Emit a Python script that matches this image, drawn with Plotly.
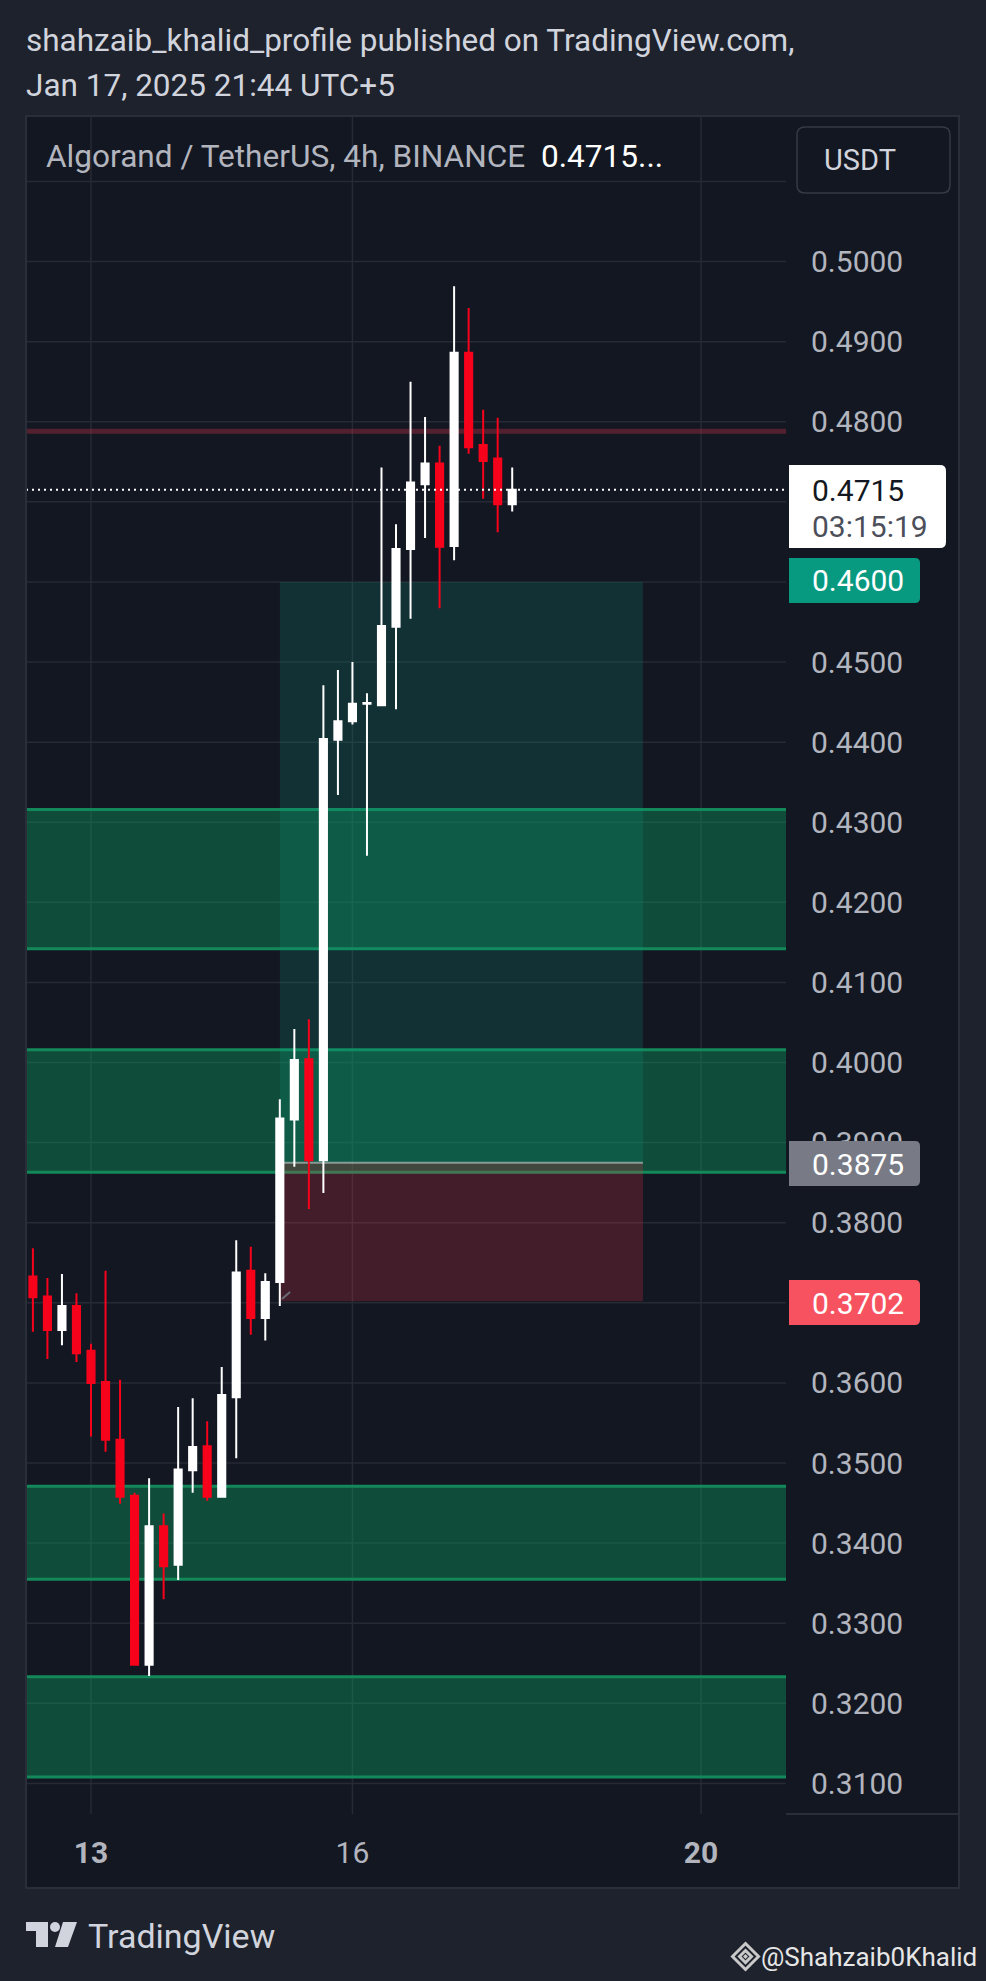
import pandas as pd
import plotly.graph_objects as go

# ---------------- data ----------------
times = pd.date_range("2025-01-12 08:00", periods=34, freq="4h")
open_ = [0.3733, 0.3708, 0.3666, 0.3696, 0.3640, 0.3601, 0.3529, 0.3459, 0.3248, 0.3421,
         0.3373, 0.3491, 0.3521, 0.3458, 0.3582, 0.3740, 0.3681, 0.3726, 0.3929, 0.4004,
         0.3878, 0.4403, 0.4426, 0.4448, 0.4446, 0.4544, 0.4641, 0.4722, 0.4748, 0.4645,
         0.4886, 0.4771, 0.4754, 0.4697]
high = [0.3768, 0.3731, 0.3736, 0.3712, 0.3649, 0.3740, 0.3604, 0.3463, 0.3481, 0.3437,
        0.3570, 0.3581, 0.3552, 0.3620, 0.3778, 0.3770, 0.3737, 0.3954, 0.4042, 0.4054,
        0.4471, 0.4490, 0.4500, 0.4461, 0.4743, 0.4672, 0.4850, 0.4806, 0.4770, 0.4969,
        0.4942, 0.4815, 0.4805, 0.4743]
low = [0.3664, 0.3630, 0.3647, 0.3626, 0.3533, 0.3514, 0.3449, 0.3247, 0.3234, 0.3330,
       0.3354, 0.3463, 0.3453, 0.3458, 0.3506, 0.3660, 0.3653, 0.3696, 0.3870, 0.3817,
       0.3837, 0.4334, 0.4422, 0.4258, 0.4445, 0.4441, 0.4554, 0.4655, 0.4567, 0.4627,
       0.4760, 0.4704, 0.4662, 0.4688]
close = [0.3707, 0.3666, 0.3696, 0.3637, 0.3600, 0.3529, 0.3458, 0.3248, 0.3421, 0.3371,
         0.3492, 0.3520, 0.3458, 0.3585, 0.3738, 0.3681, 0.3726, 0.3930, 0.4003, 0.3878,
         0.4404, 0.4426, 0.4448, 0.4449, 0.4545, 0.4641, 0.4724, 0.4748, 0.4644, 0.4886,
         0.4768, 0.4751, 0.4697, 0.4715]

zones = [(0.4142, 0.4316), (0.3863, 0.4016), (0.3355, 0.3471), (0.3108, 0.3233)]
resistance = 0.4788
last_price = 0.4715
entry, target, stop = 0.3875, 0.4600, 0.3702
pos_start, pos_end = "2025-01-15 04:00", "2025-01-19 08:00"

y_ticks = [0.31, 0.32, 0.33, 0.34, 0.35, 0.36, 0.37, 0.38, 0.39, 0.40, 0.41,
           0.42, 0.43, 0.44, 0.45, 0.46, 0.47, 0.48, 0.49, 0.50, 0.51]
y_ticktext = ["0.3100", "0.3200", "0.3300", "0.3400", "0.3500", "0.3600", "",
              "0.3800", "0.3900", "0.4000", "0.4100", "0.4200", "0.4300", "0.4400",
              "0.4500", "", "", "0.4800", "0.4900", "0.5000", ""]
x_ticks = ["2025-01-13", "2025-01-16", "2025-01-20"]
x_ticktext = ["<b>13</b>", "16", "<b>20</b>"]

# ---------------- geometry helpers (pixels -> paper) ----------------
W, H = 986, 1981
L, R, T, B = 26, 786, 116, 1814


def px(x):
    return (x - L) / (R - L)


def py(y):
    return (B - y) / (B - T)


def P(x, y):
    return f"{px(x):.5f},{py(y):.5f}"


def rect_paper(x0, y0, x1, y1, **kw):
    d = dict(type="rect", xref="paper", yref="paper",
             x0=px(x0), x1=px(x1), y0=py(y1), y1=py(y0))
    d.update(kw)
    return d


def rr_path(x0, y0, x1, y1, r, round_left=True):
    rl = r if round_left else 0
    s = f"M{P(x0 + rl, y0)} L{P(x1 - r, y0)} Q{P(x1, y0)} {P(x1, y0 + r)} "
    s += f"L{P(x1, y1 - r)} Q{P(x1, y1)} {P(x1 - r, y1)} L{P(x0 + rl, y1)} "
    if rl:
        s += f"Q{P(x0, y1)} {P(x0, y1 - rl)} L{P(x0, y0 + rl)} Q{P(x0, y0)} {P(x0 + rl, y0)} Z"
    else:
        s += "Z"
    return s


BG = "#131722"
OUTER = "#1e222d"
GRID = "#262a35"
TXT = "#b2b5be"
RED = "#f7021b"
FONT = "Roboto"

fig = go.Figure()
fig.add_trace(go.Candlestick(
    x=times, open=open_, high=high, low=low, close=close,
    increasing=dict(line=dict(color="#ffffff", width=2), fillcolor="#ffffff"),
    decreasing=dict(line=dict(color=RED, width=2), fillcolor=RED),
    whiskerwidth=0, hoverinfo="skip",
))

shapes = []
# outer frame strips
shapes.append(rect_paper(0, 0, W, T, fillcolor=OUTER, line_width=0, layer="below"))
shapes.append(rect_paper(0, 1888, W, H, fillcolor=OUTER, line_width=0, layer="below"))
shapes.append(rect_paper(0, T, L, 1888, fillcolor=OUTER, line_width=0, layer="below"))
shapes.append(rect_paper(959, T, W, 1888, fillcolor=OUTER, line_width=0, layer="below"))

# grid lines (drawn first so overlays sit on top of them)
for yv in y_ticks:
    shapes.append(dict(type="line", xref="x domain", yref="y", x0=0, x1=1, y0=yv, y1=yv,
                       line=dict(color=GRID, width=1.5), layer="below"))
for xv in x_ticks:
    shapes.append(dict(type="line", xref="x", yref="paper", x0=xv, x1=xv, y0=0, y1=1,
                       line=dict(color=GRID, width=1.5), layer="below"))

# support/demand zones
for lo, hi in zones:
    shapes.append(dict(type="rect", xref="x domain", yref="y", x0=0, x1=1,
                       y0=lo, y1=hi, fillcolor="rgba(12,158,94,0.40)",
                       line_width=0, layer="below"))
    for edge in (lo, hi):
        shapes.append(dict(type="line", xref="x domain", yref="y", x0=0, x1=1,
                           y0=edge, y1=edge, line=dict(color="#13885a", width=3),
                           layer="below"))
# long position tool
shapes.append(dict(type="rect", xref="x", yref="y", x0=pos_start, x1=pos_end,
                   y0=entry, y1=target, fillcolor="rgba(8,153,129,0.20)",
                   line_width=0, layer="below"))
shapes.append(dict(type="rect", xref="x", yref="y", x0=pos_start, x1=pos_end,
                   y0=stop, y1=entry, fillcolor="rgba(242,54,69,0.22)",
                   line_width=0, layer="below"))
shapes.append(dict(type="line", xref="x", yref="y", x0=pos_start, x1=pos_end,
                   y0=entry, y1=entry, line=dict(color="rgba(200,205,210,0.6)", width=2),
                   layer="below"))
# resistance line
shapes.append(dict(type="line", xref="x domain", yref="y", x0=0, x1=1,
                   y0=resistance, y1=resistance,
                   line=dict(color="rgba(200,50,70,0.35)", width=5), layer="below"))
# last price dotted line
shapes.append(dict(type="line", xref="x domain", yref="y", x0=0, x1=1,
                   y0=last_price, y1=last_price,
                   line=dict(color="#ffffff", width=2, dash="2px,4px"), layer="above"))
# small drag marker
shapes.append(dict(type="line", xref="paper", yref="paper", x0=px(282), y0=py(1299),
                   x1=px(290), y1=py(1292), line=dict(color="#6a6d78", width=2)))

# frame border & time-axis separator
shapes.append(rect_paper(L, T, 959, 1888, line=dict(color="#2a2e39", width=2), layer="above"))
shapes.append(dict(type="line", xref="paper", yref="paper", x0=px(R), x1=px(959),
                   y0=py(B), y1=py(B), line=dict(color="#2a2e39", width=2)))

# price labels on axis
shapes.append(dict(type="path", xref="paper", yref="paper",
                   path=rr_path(789, 465, 946, 548, 6, round_left=False),
                   fillcolor="#ffffff", line_width=0, layer="above"))
shapes.append(dict(type="path", xref="paper", yref="paper",
                   path=rr_path(789, 558, 920, 603, 5, round_left=False),
                   fillcolor="#089981", line_width=0, layer="above"))
shapes.append(dict(type="path", xref="paper", yref="paper",
                   path=rr_path(789, 1141, 920, 1186, 5, round_left=False),
                   fillcolor="#787b86", line_width=0, layer="above"))
shapes.append(dict(type="path", xref="paper", yref="paper",
                   path=rr_path(789, 1280, 920, 1325, 5, round_left=False),
                   fillcolor="#f7525f", line_width=0, layer="above"))
# USDT box
shapes.append(dict(type="path", xref="paper", yref="paper",
                   path=rr_path(797, 127, 950, 193, 8),
                   fillcolor=BG, line=dict(color="#363a45", width=1.5), layer="above"))

# TradingView logo
tv_path = (f"M{P(26,1922)} L{P(48,1922)} L{P(48,1947)} L{P(36,1947)} L{P(36,1931)} "
           f"L{P(26,1931)} Z M{P(63,1922)} L{P(77,1922)} L{P(68,1947)} L{P(55,1947)} Z")
shapes.append(dict(type="path", xref="paper", yref="paper", path=tv_path,
                   fillcolor="#d1d4dc", line_width=0))
shapes.append(dict(type="circle", xref="paper", yref="paper",
                   x0=px(50), x1=px(60), y0=py(1932), y1=py(1922),
                   fillcolor="#d1d4dc", line_width=0))
# Binance-like logo
cx, cy = 745.5, 1956.5
bn_path = (f"M{P(cx,cy-13)} L{P(cx+13,cy)} L{P(cx,cy+13)} L{P(cx-13,cy)} Z "
           f"M{P(cx,cy-6)} L{P(cx+6,cy)} L{P(cx,cy+6)} L{P(cx-6,cy)} Z")
shapes.append(dict(type="path", xref="paper", yref="paper", path=bn_path,
                   fillcolor="rgba(0,0,0,0)", line=dict(color="#c9c9c9", width=3)))
shapes.append(dict(type="path", xref="paper", yref="paper",
                   path=f"M{P(cx,cy-2.5)} L{P(cx+2.5,cy)} L{P(cx,cy+2.5)} L{P(cx-2.5,cy)} Z",
                   fillcolor="#c9c9c9", line_width=0))

annotations = []


def ann(text, x, y, size, color, xanchor="left", family=FONT):
    annotations.append(dict(text=text, xref="paper", yref="paper", x=px(x), y=py(y),
                            xanchor=xanchor, yanchor="middle", showarrow=False,
                            font=dict(family=family, size=size, color=color)))


ann("shahzaib_khalid_profile published on TradingView.com,", 24, 41, 31.5, "#d1d4dc")
ann("Jan 17, 2025 21:44 UTC+5", 24, 85, 31.5, "#d1d4dc")
ann("Algorand / TetherUS, 4h, BINANCE", 44, 157, 31.6, TXT)
ann("0.4715...", 539, 157, 31.6, "#ffffff")
ann("USDT", 860, 160, 29, "#d1d4dc", xanchor="center")
ann("0.4715", 810, 490, 30, BG)
ann("03:15:19", 810, 526, 30, "#4c4f5a")
ann("0.4600", 810, 581, 30, "#ffffff")
ann("0.3875", 810, 1164, 30, "#ffffff")
ann("0.3702", 810, 1303, 30, "#ffffff")
ann("TradingView", 86, 1936, 34, "#d1d4dc")
ann("@Shahzaib0Khalid", 979, 1957, 26, "#e6e6e6", xanchor="right")

fig.update_layout(
    width=W, height=H,
    margin=dict(l=L, r=W - R, t=T, b=H - B),
    paper_bgcolor=BG, plot_bgcolor=BG,
    showlegend=False,
    shapes=shapes, annotations=annotations,
    font=dict(family=FONT),
    xaxis=dict(
        type="date", range=["2025-01-12 06:06", "2025-01-20 23:24"],
        rangeslider=dict(visible=False),
        tickvals=x_ticks, ticktext=x_ticktext,
        tickfont=dict(family=FONT, size=30, color=TXT),
        showgrid=False,
        zeroline=False, showline=False, ticks="", ticklabelstandoff=18,
        fixedrange=True,
    ),
    yaxis=dict(
        side="right", range=[0.30618, 0.51817],
        tickvals=y_ticks, ticktext=y_ticktext,
        tickfont=dict(family=FONT, size=30, color=TXT),
        showgrid=False,
        zeroline=False, showline=False, ticks="", ticklabelstandoff=24,
        fixedrange=True,
    ),
)

fig.write_html("out.html", config={"displayModeBar": False},
               post_script="document.body.style.margin='0';document.body.style.background='#131722';")
